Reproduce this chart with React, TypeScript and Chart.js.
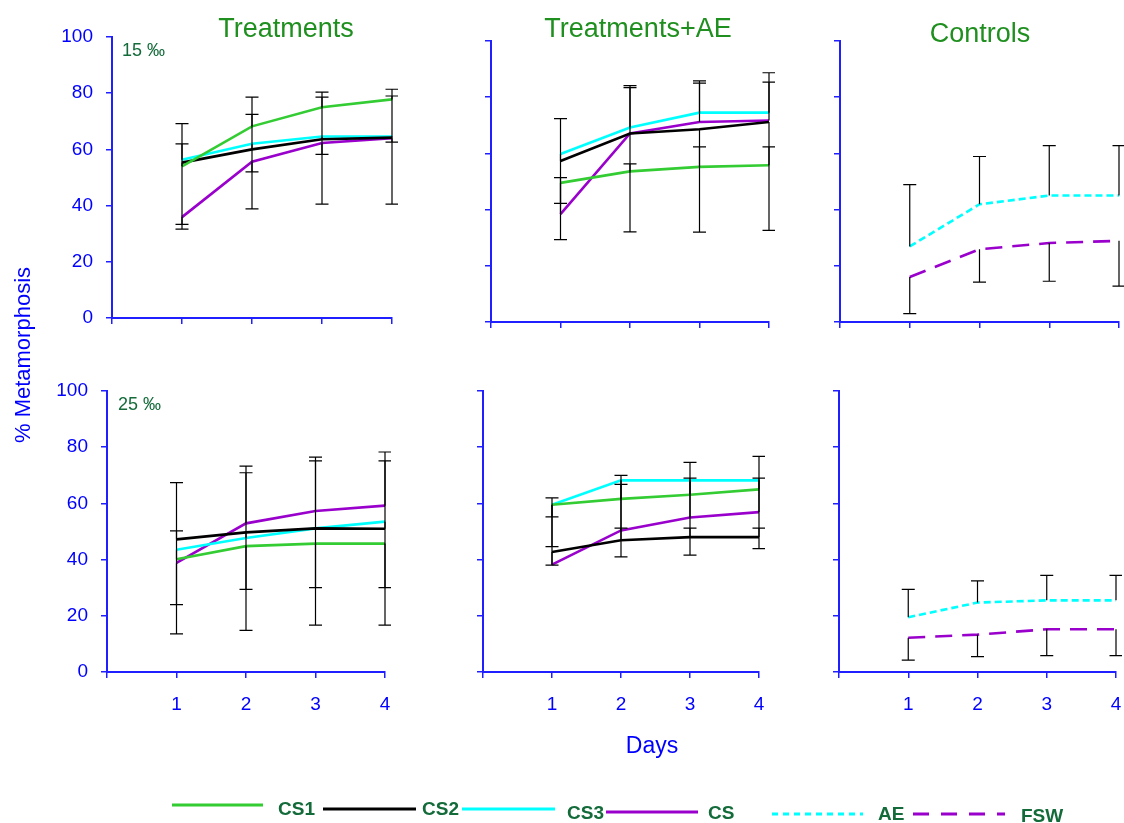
import React, { useEffect, useRef } from 'react';
import { Chart, registerables } from 'chart.js';

Chart.register(...registerables);

// ---------- DATA ----------
const days = [1, 2, 3, 4];
const xTickLabels = ['', '1', '2', '3', '4'];
const yTickStep = 20;

const panelTitles = ['Treatments', 'Treatments+AE', 'Controls'];
const salinityLabels = ['15 ‰', '25 ‰'];
const yAxisTitle = '% Metamorphosis';
const xAxisTitle = 'Days';

// Top row: 15 ‰ — Treatments
const tr15CS1 = [54.0, 68.2, 75.0, 77.8];
const tr15CS2 = [55.3, 60.0, 63.6, 64.2];
const tr15CS3 = [56.3, 62.0, 64.6, 64.6];
const tr15CS = [35.9, 55.6, 62.3, 64.0];
const tr15CS1Err = [8.0, 10.4, 5.4, 3.6];
const tr15CS2Err = [-23.7, 12.5, 15.0, 14.8];
const tr15CS3Err = [12.9, -10.0, -6.4, -2.0];
const tr15CSErr = [-2.6, -16.8, -21.8, -23.5];

// Top row: 15 ‰ — Treatments+AE
const ae15CS1 = [49.5, 53.6, 55.2, 55.8];
const ae15CS2 = [57.3, 67.1, 68.6, 71.2];
const ae15CS3 = [59.8, 69.2, 74.5, 74.5];
const ae15CS = [38.4, 67.1, 71.2, 71.7];
const ae15CS1Err = [-20.2, 2.7, 7.1, 6.5];
const ae15CS2Err = [15.1, 16.3, -36.6, -38.6];
const ae15CS3Err = [-17.6, 14.9, 11.3, 14.2];
const ae15CSErr = [13.0, -35.0, 13.8, 13.7];

// Top row: 15 ‰ — Controls
const ct15AE = [26.9, 41.9, 45.0, 45.0];
const ct15FSW = [16.0, 25.9, 28.1, 28.9];
const ct15AEErr = [22.0, 17.0, 17.8, 17.8];
const ct15FSWErr = [-13.0, -11.7, -13.6, -16.1];

// Bottom row: 25 ‰ — Treatments
const tr25CS1 = [40.1, 44.8, 45.7, 45.7];
const tr25CS2 = [47.2, 49.7, 51.1, 51.0];
const tr25CS3 = [43.5, 47.7, 51.1, 53.5];
const tr25CS = [38.8, 52.9, 57.3, 59.2];
const tr25CS1Err = [10.1, -30.0, -29.0, -29.0];
const tr25CS2Err = [20.2, -20.3, -21.1, 24.1];
const tr25CS3Err = [-19.5, 23.2, 24.0, -23.5];
const tr25CSErr = [-25.2, 20.4, 19.2, 19.1];

// Bottom row: 25 ‰ — Treatments+AE
const ae25CS1 = [59.5, 61.6, 63.1, 65.0];
const ae25CS2 = [42.7, 46.9, 48.0, 48.0];
const ae25CS3 = [59.5, 68.2, 68.2, 68.2];
const ae25CS = [38.2, 50.4, 55.0, 56.9];
const ae25CS1Err = [-14.9, 8.4, 11.5, 11.7];
const ae25CS2Err = [-4.7, 4.3, 3.2, 3.2];
const ae25CS3Err = [-4.3, -27.2, -26.6, -24.3];
const ae25CSErr = [23.8, 16.4, 14.0, 12.1];

// Bottom row: 25 ‰ — Controls
const ct25AE = [19.5, 24.7, 25.5, 25.5];
const ct25FSW = [12.2, 13.3, 15.2, 15.2];
const ct25AEErr = [9.9, 7.7, 8.9, 8.9];
const ct25FSWErr = [-8.0, -7.8, -9.4, -9.4];

// ---------- STYLE ----------
const COLORS: Record<string, string> = {
  CS1: '#33cc33',
  CS2: '#000000',
  CS3: '#00ffff',
  CS: '#9900cc',
  AE: '#00ffff',
  FSW: '#9900cc',
};
const DASH: Record<string, number[]> = { AE: [7, 4], FSW: [17, 10] };
const AXIS_BLUE = '#1f1fff';
const TEXT_BLUE = '#0000ff';
const TITLE_GREEN = '#1f8f1f';
const LABEL_GREEN = '#146b3a';
const FONT = "'Liberation Sans', Arial, Helvetica, sans-serif";

type Series = { name: string; values: number[]; err: number[] };
type Panel = {
  left: number;
  right: number;
  top: number;
  bottom: number;
  yLabels: boolean;
  xLabels: boolean;
  series: Series[];
};

const panels: Panel[] = [
  {
    left: 112, right: 392, top: 37, bottom: 318, yLabels: true, xLabels: false,
    series: [
      { name: 'CS1', values: tr15CS1, err: tr15CS1Err },
      { name: 'CS2', values: tr15CS2, err: tr15CS2Err },
      { name: 'CS3', values: tr15CS3, err: tr15CS3Err },
      { name: 'CS', values: tr15CS, err: tr15CSErr },
    ],
  },
  {
    left: 491, right: 769, top: 41, bottom: 322, yLabels: false, xLabels: false,
    series: [
      { name: 'CS1', values: ae15CS1, err: ae15CS1Err },
      { name: 'CS2', values: ae15CS2, err: ae15CS2Err },
      { name: 'CS3', values: ae15CS3, err: ae15CS3Err },
      { name: 'CS', values: ae15CS, err: ae15CSErr },
    ],
  },
  {
    left: 840, right: 1119, top: 41, bottom: 322, yLabels: false, xLabels: false,
    series: [
      { name: 'AE', values: ct15AE, err: ct15AEErr },
      { name: 'FSW', values: ct15FSW, err: ct15FSWErr },
    ],
  },
  {
    left: 107, right: 385, top: 391, bottom: 672, yLabels: true, xLabels: true,
    series: [
      { name: 'CS1', values: tr25CS1, err: tr25CS1Err },
      { name: 'CS2', values: tr25CS2, err: tr25CS2Err },
      { name: 'CS3', values: tr25CS3, err: tr25CS3Err },
      { name: 'CS', values: tr25CS, err: tr25CSErr },
    ],
  },
  {
    left: 483, right: 759, top: 391, bottom: 672, yLabels: false, xLabels: true,
    series: [
      { name: 'CS1', values: ae25CS1, err: ae25CS1Err },
      { name: 'CS2', values: ae25CS2, err: ae25CS2Err },
      { name: 'CS3', values: ae25CS3, err: ae25CS3Err },
      { name: 'CS', values: ae25CS, err: ae25CSErr },
    ],
  },
  {
    left: 839, right: 1116, top: 391, bottom: 672, yLabels: false, xLabels: true,
    series: [
      { name: 'AE', values: ct25AE, err: ct25AEErr },
      { name: 'FSW', values: ct25FSW, err: ct25FSWErr },
    ],
  },
];

const PAD_TOP = 20;
const PAD_RIGHT = 6;
const X_AXIS_H = 50;
const yAxisWidth = (p: Panel) => (p.yLabels ? 90 : 20);

const errorBarPlugin = {
  id: 'errorBars',
  afterDatasetsDraw(chart: any) {
    const ctx = chart.ctx;
    const xs = chart.scales.x;
    const ys = chart.scales.y;
    ctx.save();
    ctx.strokeStyle = '#000000';
    ctx.lineWidth = 1.2;
    chart.data.datasets.forEach((ds: any) => {
      const err: number[] = ds.errorBars;
      if (!err) return;
      ds.data.forEach((p: any, i: number) => {
        const e = err[i];
        if (e == null) return;
        const x = xs.getPixelForValue(p.x);
        const y0 = ys.getPixelForValue(p.y);
        const y1 = ys.getPixelForValue(p.y + e);
        ctx.beginPath();
        ctx.moveTo(x, y0);
        ctx.lineTo(x, y1);
        ctx.moveTo(x - 6.5, y1);
        ctx.lineTo(x + 6.5, y1);
        ctx.stroke();
      });
    });
    ctx.restore();
  },
};

function PanelChart({ panel }: { panel: Panel }) {
  const ref = useRef<HTMLCanvasElement | null>(null);
  const yW = yAxisWidth(panel);
  const cLeft = panel.left - yW;
  const cTop = panel.top - PAD_TOP;
  const cW = panel.right + PAD_RIGHT - cLeft;
  const cH = panel.bottom + X_AXIS_H - cTop;

  useEffect(() => {
    if (!ref.current) return;
    const chart = new Chart(ref.current, {
      type: 'line',
      data: {
        datasets: panel.series.map((s) => ({
          label: s.name,
          data: days.map((d, i) => ({ x: d, y: s.values[i] })),
          borderColor: COLORS[s.name],
          backgroundColor: COLORS[s.name],
          borderWidth: 2.6,
          borderDash: DASH[s.name] || [],
          pointRadius: 0,
          tension: 0,
          fill: false,
          errorBars: s.err,
        })) as any,
      },
      options: {
        animation: false,
        responsive: false,
        events: [],
        layout: {
          padding: { left: 0, top: PAD_TOP, right: PAD_RIGHT, bottom: 0 },
          autoPadding: false,
        },
        plugins: {
          legend: { display: false },
          tooltip: { enabled: false },
          title: { display: false },
        },
        scales: {
          x: {
            type: 'linear',
            min: 0,
            max: 4,
            afterFit: (s: any) => {
              s.height = X_AXIS_H;
              s.paddingLeft = 0;
              s.paddingRight = 0;
            },
            ticks: {
              display: panel.xLabels,
              stepSize: 1,
              autoSkip: false,
              maxRotation: 0,
              color: TEXT_BLUE,
              padding: 15,
              font: { family: FONT, size: 19 },
              callback: (v: any) => xTickLabels[Math.round(Number(v))] ?? '',
            },
            grid: {
              drawOnChartArea: false,
              drawTicks: true,
              tickLength: 6,
              color: AXIS_BLUE,
              lineWidth: 1.5,
            },
            border: { display: true, color: AXIS_BLUE, width: 2 },
          },
          y: {
            type: 'linear',
            min: 0,
            max: 100,
            afterFit: (s: any) => {
              s.width = yW;
              s.paddingTop = 0;
              s.paddingBottom = 0;
            },
            ticks: {
              display: panel.yLabels,
              stepSize: yTickStep,
              color: TEXT_BLUE,
              padding: 13,
              font: { family: FONT, size: 19 },
            },
            grid: {
              drawOnChartArea: false,
              drawTicks: true,
              tickLength: 6,
              color: AXIS_BLUE,
              lineWidth: 1.5,
            },
            border: { display: true, color: AXIS_BLUE, width: 2 },
          },
        },
      } as any,
      plugins: [errorBarPlugin],
    });
    return () => chart.destroy();
  }, []);

  return (
    <canvas
      ref={ref}
      width={cW}
      height={cH}
      style={{ position: 'absolute', left: cLeft, top: cTop, width: cW, height: cH }}
    />
  );
}

function Txt(props: {
  x: number;
  y: number;
  size: number;
  color: string;
  bold?: boolean;
  align?: 'center' | 'left';
  rotate?: boolean;
  children: React.ReactNode;
}) {
  const { x, y, size, color, bold, align = 'center', rotate, children } = props;
  const tx = align === 'center' ? '-50%' : '0';
  return (
    <div
      style={{
        position: 'absolute',
        left: x,
        top: y,
        transform: `translate(${tx}, -50%)${rotate ? ' rotate(-90deg)' : ''}`,
        fontFamily: FONT,
        fontSize: size,
        fontWeight: bold ? 'bold' : 'normal',
        color,
        lineHeight: 1,
        whiteSpace: 'nowrap',
      }}
    >
      {children}
    </div>
  );
}

const legendItems = [
  { name: 'CS1', x1: 172, x2: 263, y: 805, tx: 278, ty: 808 },
  { name: 'CS2', x1: 323, x2: 416, y: 809, tx: 422, ty: 808 },
  { name: 'CS3', x1: 462, x2: 555, y: 809, tx: 567, ty: 812 },
  { name: 'CS', x1: 606, x2: 698, y: 812, tx: 708, ty: 812 },
  { name: 'AE', x1: 772, x2: 863, y: 814, tx: 878, ty: 813 },
  { name: 'FSW', x1: 913, x2: 1005, y: 814, tx: 1021, ty: 815 },
];
const legendDash: Record<string, string> = { AE: '6 5', FSW: '16 12' };

export default function App() {
  return (
    <div
      style={{
        position: 'fixed',
        left: 0,
        top: 0,
        width: 1124,
        height: 823,
        overflow: 'hidden',
        background: '#ffffff',
      }}
    >
      {panels.map((p, i) => (
        <PanelChart key={i} panel={p} />
      ))}

      <Txt x={286} y={28} size={27} color={TITLE_GREEN}>{panelTitles[0]}</Txt>
      <Txt x={638} y={28} size={27} color={TITLE_GREEN}>{panelTitles[1]}</Txt>
      <Txt x={980} y={33} size={27} color={TITLE_GREEN}>{panelTitles[2]}</Txt>

      <Txt x={122} y={50} size={18} color={LABEL_GREEN} align="left">{salinityLabels[0]}</Txt>
      <Txt x={118} y={404} size={18} color={LABEL_GREEN} align="left">{salinityLabels[1]}</Txt>

      <Txt x={23} y={355} size={22} color={TEXT_BLUE} rotate>{yAxisTitle}</Txt>
      <Txt x={652} y={745} size={23} color={TEXT_BLUE}>{xAxisTitle}</Txt>

      <svg
        width={1124}
        height={823}
        style={{ position: 'absolute', left: 0, top: 0, pointerEvents: 'none' }}
      >
        {legendItems.map((it) => (
          <line
            key={it.name}
            x1={it.x1}
            x2={it.x2}
            y1={it.y}
            y2={it.y}
            stroke={COLORS[it.name]}
            strokeWidth={3}
            strokeDasharray={legendDash[it.name]}
          />
        ))}
      </svg>
      {legendItems.map((it) => (
        <Txt key={it.name} x={it.tx} y={it.ty} size={19} color={LABEL_GREEN} bold align="left">
          {it.name}
        </Txt>
      ))}
    </div>
  );
}
